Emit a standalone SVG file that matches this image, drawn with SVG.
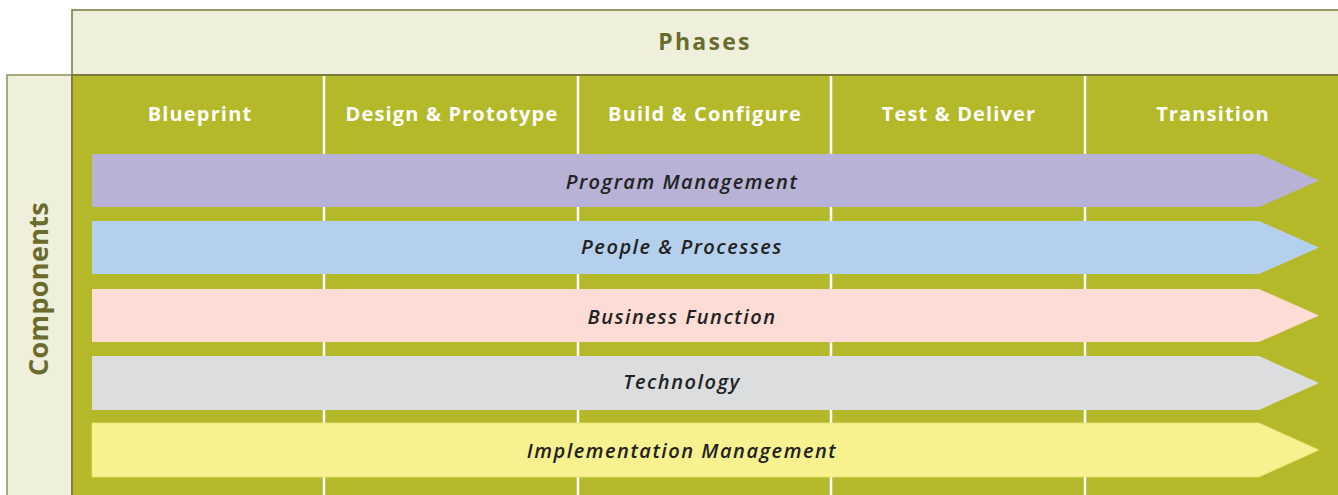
<svg xmlns="http://www.w3.org/2000/svg" width="1338" height="495" viewBox="0 0 1338 495">
<style>
.hdr{font-family:"Open Sans","Noto Sans",sans-serif;font-weight:bold;fill:#6b6b2e;text-anchor:middle}
.col{font-family:"Open Sans","Noto Sans",sans-serif;font-weight:bold;fill:#ffffff;font-size:20px;letter-spacing:1.15px;text-anchor:middle}
.lbl{font-family:"Open Sans","Noto Sans",sans-serif;font-style:italic;font-weight:600;fill:#222222;font-size:20px;letter-spacing:1.5px;text-anchor:middle}
.div{stroke:#ffffff;stroke-width:2.5}
</style>
<rect width="1338" height="495" fill="#ffffff"/>
<g id="phases">
<rect x="72" y="10" width="1270" height="65" fill="#eef0dc" stroke="#77773f" stroke-width="1.5"/>
<text class="hdr" x="705" y="50" font-size="23" letter-spacing="2.3">Phases</text>
</g>
<g id="components">
<rect x="7" y="75" width="65" height="425" fill="#eef0dc" stroke="#8f8f5a" stroke-width="1.5"/>
<text class="hdr" transform="translate(48,289) rotate(-90)" font-size="27" letter-spacing="0.3">Components</text>
</g>
<g id="grid">
<rect x="72" y="75" width="1270" height="425" fill="#b3b928" stroke="#6e6e3a" stroke-width="1.5"/>
<line class="div" x1="324" y1="76" x2="324" y2="495"/>
<line class="div" x1="578" y1="76" x2="578" y2="495"/>
<line class="div" x1="831" y1="76" x2="831" y2="495"/>
<line class="div" x1="1085" y1="76" x2="1085" y2="495"/>
<text class="col" x="200" y="121">Blueprint</text>
<text class="col" x="452" y="121">Design &amp; Prototype</text>
<text class="col" x="705" y="121">Build &amp; Configure</text>
<text class="col" x="959" y="121">Test &amp; Deliver</text>
<text class="col" x="1213" y="121">Transition</text>
</g>
<g id="program-management">
<polygon points="92,154 1259,154 1319,180.5 1259,207 92,207" fill="#b8b2d6"/>
<text class="lbl" x="682" y="189">Program Management</text>
</g>
<g id="people-processes">
<polygon points="92,221 1259,221 1319,247.5 1259,274 92,274" fill="#b5d0ec"/>
<text class="lbl" x="682" y="254">People &amp; Processes</text>
</g>
<g id="business-function">
<polygon points="92,289 1259,289 1319,315.5 1259,342 92,342" fill="#fcdcd4"/>
<text class="lbl" x="682" y="324">Business Function</text>
</g>
<g id="technology">
<polygon points="92,356 1259,356 1319,383 1259,410 92,410" fill="#dcdddf"/>
<text class="lbl" x="682" y="389">Technology</text>
</g>
<g id="implementation-management">
<polygon points="92,423 1259,423 1319,450 1259,477 92,477" fill="#f7f18f" stroke="#e8e27a" stroke-width="0.8"/>
<text class="lbl" x="682" y="458">Implementation Management</text>
</g>
</svg>
